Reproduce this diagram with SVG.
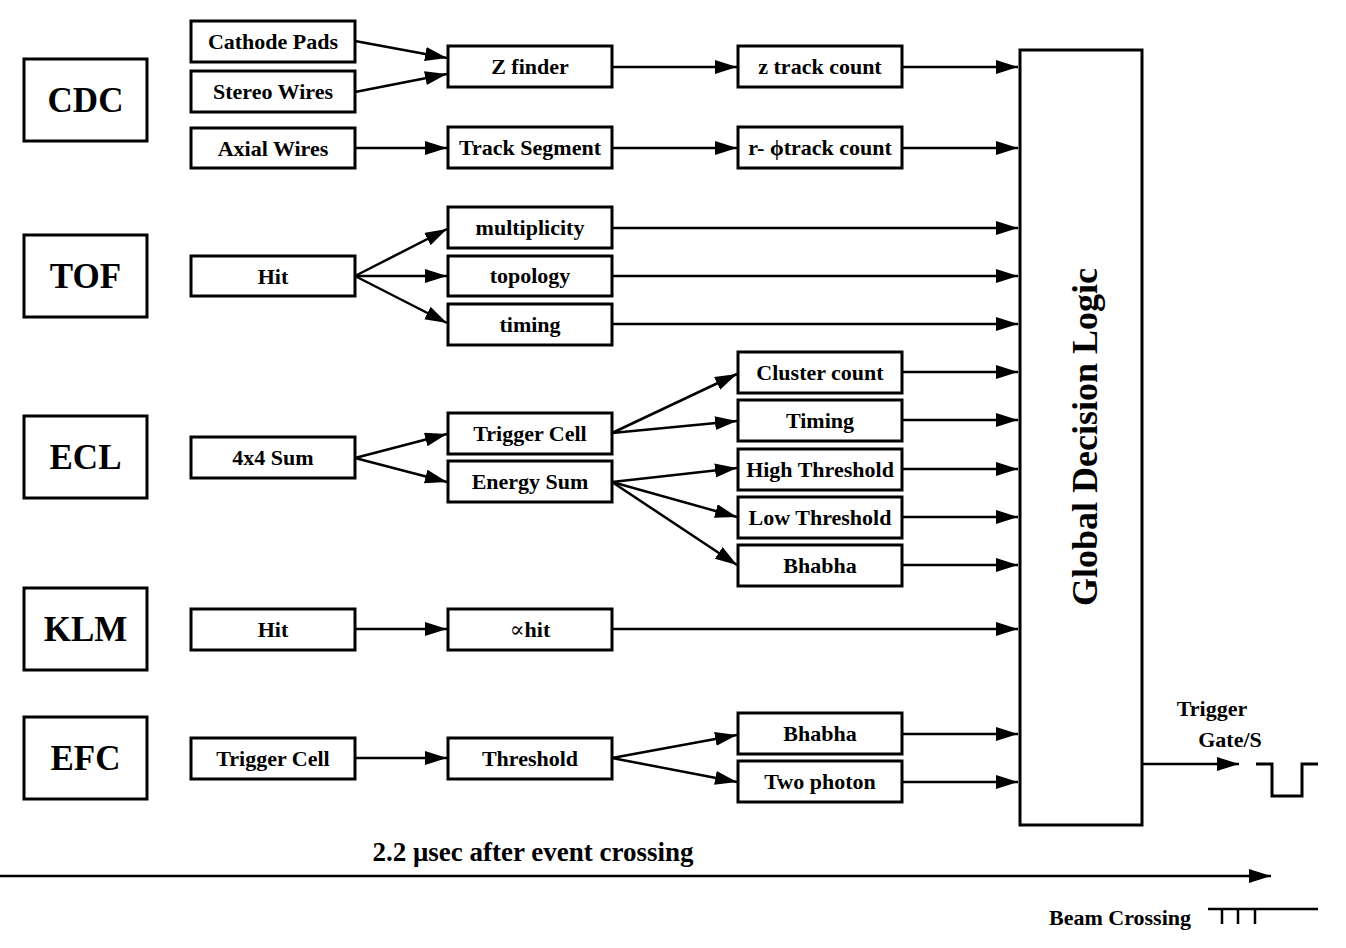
<svg xmlns="http://www.w3.org/2000/svg" width="1346" height="948" viewBox="0 0 1346 948">
<style>
.box{fill:#fff;stroke:#000;stroke-width:3}
.t{font-family:'Liberation Serif','DejaVu Serif',serif;font-weight:700;font-size:22px;text-anchor:middle;fill:#000}
.big{font-size:35px}
.gdl{font-size:36px}
.tl{font-size:27px}
.ln{stroke:#000;stroke-width:2.5;fill:none}
.ar{marker-end:url(#ah)}
</style>
<defs>
<marker id="ah" markerUnits="userSpaceOnUse" markerWidth="24" markerHeight="16" refX="22" refY="7" orient="auto">
<path d="M0,0 L22,7 L0,14 Z" fill="#000"/>
</marker>
</defs>

<g id="connectors">
<line class="ln ar" x1="355" y1="41" x2="447" y2="58"/>
<line class="ln ar" x1="355" y1="92" x2="447" y2="74"/>
<line class="ln ar" x1="355" y1="148" x2="447" y2="148"/>
<line class="ln ar" x1="355" y1="276" x2="447" y2="229"/>
<line class="ln ar" x1="355" y1="276" x2="447" y2="276"/>
<line class="ln ar" x1="355" y1="276" x2="447" y2="323"/>
<line class="ln ar" x1="355" y1="458" x2="447" y2="434"/>
<line class="ln ar" x1="355" y1="458" x2="447" y2="482"/>
<line class="ln ar" x1="355" y1="629" x2="447" y2="629"/>
<line class="ln ar" x1="355" y1="758" x2="447" y2="758"/>

<line class="ln ar" x1="612" y1="67" x2="737" y2="67"/>
<line class="ln ar" x1="612" y1="148" x2="737" y2="148"/>
<line class="ln ar" x1="612" y1="433" x2="737" y2="374"/>
<line class="ln ar" x1="612" y1="433" x2="737" y2="421"/>
<line class="ln ar" x1="612" y1="482" x2="737" y2="468"/>
<line class="ln ar" x1="612" y1="482" x2="737" y2="517"/>
<line class="ln ar" x1="612" y1="482" x2="737" y2="565"/>
<line class="ln ar" x1="612" y1="758" x2="737" y2="735"/>
<line class="ln ar" x1="612" y1="758" x2="737" y2="782"/>

<line class="ln ar" x1="612" y1="228" x2="1018" y2="228"/>
<line class="ln ar" x1="612" y1="276" x2="1018" y2="276"/>
<line class="ln ar" x1="612" y1="324" x2="1018" y2="324"/>
<line class="ln ar" x1="612" y1="629" x2="1018" y2="629"/>

<line class="ln ar" x1="902" y1="67" x2="1018" y2="67"/>
<line class="ln ar" x1="902" y1="148" x2="1018" y2="148"/>
<line class="ln ar" x1="902" y1="372" x2="1018" y2="372"/>
<line class="ln ar" x1="902" y1="420" x2="1018" y2="420"/>
<line class="ln ar" x1="902" y1="469" x2="1018" y2="469"/>
<line class="ln ar" x1="902" y1="517" x2="1018" y2="517"/>
<line class="ln ar" x1="902" y1="565" x2="1018" y2="565"/>
<line class="ln ar" x1="902" y1="734" x2="1018" y2="734"/>
<line class="ln ar" x1="902" y1="782" x2="1018" y2="782"/>

<line class="ln ar" x1="1142" y1="764" x2="1239" y2="764"/>
<line class="ln ar" x1="0" y1="876" x2="1271" y2="876"/>
</g>

<g id="det-CDC"><rect class="box" x="24" y="59" width="123" height="82"/><text class="t big" x="85.5" y="112">CDC</text></g>
<g id="det-TOF"><rect class="box" x="24" y="235" width="123" height="82"/><text class="t big" x="85.5" y="288">TOF</text></g>
<g id="det-ECL"><rect class="box" x="24" y="416" width="123" height="82"/><text class="t big" x="85.5" y="469">ECL</text></g>
<g id="det-KLM"><rect class="box" x="24" y="588" width="123" height="82"/><text class="t big" x="85.5" y="641">KLM</text></g>
<g id="det-EFC"><rect class="box" x="24" y="717" width="123" height="82"/><text class="t big" x="85.5" y="770">EFC</text></g>

<g id="cathode-pads"><rect class="box" x="191" y="21" width="164" height="41"/><text class="t" x="273" y="49">Cathode Pads</text></g>
<g id="stereo-wires"><rect class="box" x="191" y="71" width="164" height="41"/><text class="t" x="273" y="99">Stereo Wires</text></g>
<g id="axial-wires"><rect class="box" x="191" y="128" width="164" height="40"/><text class="t" x="273" y="156">Axial Wires</text></g>
<g id="tof-hit"><rect class="box" x="191" y="256" width="164" height="40"/><text class="t" x="273" y="284">Hit</text></g>
<g id="sum4x4"><rect class="box" x="191" y="437" width="164" height="41"/><text class="t" x="273" y="465">4x4 Sum</text></g>
<g id="klm-hit"><rect class="box" x="191" y="609" width="164" height="41"/><text class="t" x="273" y="637">Hit</text></g>
<g id="efc-trigger-cell"><rect class="box" x="191" y="738" width="164" height="41"/><text class="t" x="273" y="766">Trigger Cell</text></g>

<g id="z-finder"><rect class="box" x="448" y="46" width="164" height="41"/><text class="t" x="530" y="74">Z finder</text></g>
<g id="track-segment"><rect class="box" x="448" y="127" width="164" height="41"/><text class="t" x="530" y="155">Track Segment</text></g>
<g id="multiplicity"><rect class="box" x="448" y="207" width="164" height="41"/><text class="t" x="530" y="235">multiplicity</text></g>
<g id="topology"><rect class="box" x="448" y="256" width="164" height="40"/><text class="t" x="530" y="283">topology</text></g>
<g id="timing"><rect class="box" x="448" y="304" width="164" height="41"/><text class="t" x="530" y="332">timing</text></g>
<g id="ecl-trigger-cell"><rect class="box" x="448" y="413" width="164" height="41"/><text class="t" x="530" y="441">Trigger Cell</text></g>
<g id="energy-sum"><rect class="box" x="448" y="461" width="164" height="41"/><text class="t" x="530" y="489">Energy Sum</text></g>
<g id="prop-hit"><rect class="box" x="448" y="609" width="164" height="41"/><text class="t" x="530" y="637"><tspan style="font-size:22px;font-weight:400">∝</tspan>hit</text></g>
<g id="threshold"><rect class="box" x="448" y="738" width="164" height="41"/><text class="t" x="530" y="766">Threshold</text></g>

<g id="z-track-count"><rect class="box" x="738" y="46" width="164" height="41"/><text class="t" x="820" y="74">z track count</text></g>
<g id="rphi-track-count"><rect class="box" x="738" y="127" width="164" height="41"/><text class="t" x="820" y="155">r- ϕtrack count</text></g>
<g id="cluster-count"><rect class="box" x="738" y="352" width="164" height="41"/><text class="t" x="820" y="380">Cluster count</text></g>
<g id="timing-ecl"><rect class="box" x="738" y="400" width="164" height="41"/><text class="t" x="820" y="428">Timing</text></g>
<g id="high-threshold"><rect class="box" x="738" y="449" width="164" height="41"/><text class="t" x="820" y="477">High Threshold</text></g>
<g id="low-threshold"><rect class="box" x="738" y="497" width="164" height="41"/><text class="t" x="820" y="525">Low Threshold</text></g>
<g id="bhabha-ecl"><rect class="box" x="738" y="545" width="164" height="41"/><text class="t" x="820" y="573">Bhabha</text></g>
<g id="bhabha-efc"><rect class="box" x="738" y="713" width="164" height="41"/><text class="t" x="820" y="741">Bhabha</text></g>
<g id="two-photon"><rect class="box" x="738" y="761" width="164" height="41"/><text class="t" x="820" y="789">Two photon</text></g>

<g id="gdl"><rect class="box" x="1020" y="50" width="122" height="775"/><text class="t gdl" transform="translate(1097,437) rotate(-90)">Global Decision Logic</text></g>

<g id="trigger-output">
<text class="t" x="1212" y="716">Trigger</text>
<text class="t" x="1230" y="747">Gate/S</text>
<path class="ln" d="M1256,764 H1272 V796 H1302 V764 H1318" style="stroke-width:3"/>
</g>

<g id="timeline">
<text class="t tl" x="533" y="861">2.2 μsec after event crossing</text>
</g>

<g id="beam-crossing">
<text class="t" x="1120" y="925">Beam Crossing</text>
<path class="ln" d="M1208,909 H1318 M1222,909 V924 M1238,909 V924 M1255,909 V924"/>
</g>
</svg>
